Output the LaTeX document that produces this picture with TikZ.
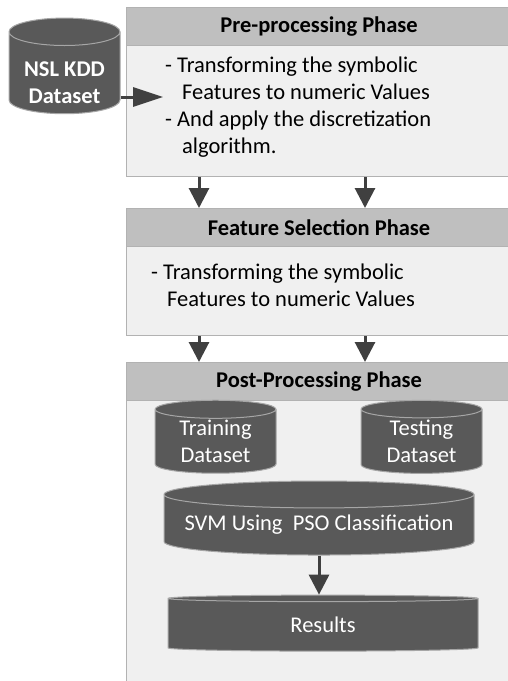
\documentclass[tikz,border=0pt]{standalone}
\usepackage{fontspec}
\setmainfont{Carlito}
\usetikzlibrary{arrows.meta,positioning,shapes.geometric}
\tikzset{
  phasebox/.style  = {draw=black!30, fill=black!6, line width=1.2pt,
                      minimum width=385pt, inner sep=0pt, anchor=north west},
  phasehead/.style = {draw=black!30, fill=black!25, line width=1.2pt,
                      minimum width=385pt, minimum height=38pt, inner sep=0pt,
                      anchor=north west, font=\fontsize{22.5}{27}\selectfont\bfseries},
  phasetext/.style = {align=left, inner sep=0pt, anchor=west,
                      font=\fontsize{22.5}{27}\selectfont},
  dbase/.style     = {cylinder, shape border rotate=90, draw=black!35, fill=black!65,
                      line width=1pt, text=white, align=center, inner sep=0pt,
                      font=\fontsize{22.5}{27}\selectfont},
  flow/.style      = {-{Triangle[length=20pt,width=20pt]}, draw=black!75, line width=3pt},
}
\begin{document}
\begin{tikzpicture}[x=1pt, y=-1pt]
\clip (0,0) rectangle (508,681);

% ---------------- the three phases ------------------------------------
\node[phasebox, minimum height=169pt] (pre) at (126,7) {};
\node[phasehead] (preh) at (pre.north west) {Pre-processing Phase};
\node[phasetext] (pretxt) at (165,107)
  {- Transforming the symbolic\\
   \hspace*{17pt}Features to numeric Values\\
   - And apply the discretization\\
   \hspace*{17pt}algorithm.};

\node[phasebox, minimum height=127pt] (feat) at (126,208) {};
\node[phasehead] (feath) at (feat.north west) {Feature Selection Phase};
\node[phasetext] (feattxt) at (151,285.5)
  {- Transforming the symbolic\\
   \hspace*{16pt}Features to numeric Values};

\node[phasebox, minimum height=340pt] (post) at (126,362) {};
\node[phasehead] (posth) at (post.north west) {Post-Processing Phase};

% ---------------- the data stores -------------------------------------
\node[dbase, minimum width=111pt, minimum height=90pt, aspect=0.34] (nsl) at (64.5,73)
  {\raisebox{-12pt}[\height][\depth]{\bfseries
     \begin{tabular}{@{}c@{}}NSL KDD\\Dataset\end{tabular}}};
\node[dbase, minimum width=121pt, minimum height=73pt, aspect=0.25] (train) at (215.5,441.5)
  {Training\\Dataset};
\node[dbase, minimum width=121pt, minimum height=73pt, aspect=0.25] (test) at (421.5,441.5)
  {Testing\\Dataset};
\node[dbase, minimum width=310pt, minimum height=74pt, aspect=0.1] (svm) at (319,525)
  {SVM Using~~PSO Classification};
\node[dbase, minimum width=310pt, minimum height=56pt, aspect=0.1] (res) at (323,625)
  {Results};

% ---------------- arrows ----------------------------------------------
\coordinate (in) at (163,97);
\draw[flow, -{Triangle[length=30pt,width=19pt]}] (nsl.east |- in) -- (in);

\foreach \dx in {73,239} {
  \draw[flow] ([xshift=\dx pt]pre.south west) -- ([xshift=\dx pt]feat.north west);
  \draw[flow] ([xshift=\dx pt]feat.south west) -- ([xshift=\dx pt]post.north west);
}

\draw[flow] (svm.south) -- (svm.south |- res.north);

\end{tikzpicture}
\end{document}
